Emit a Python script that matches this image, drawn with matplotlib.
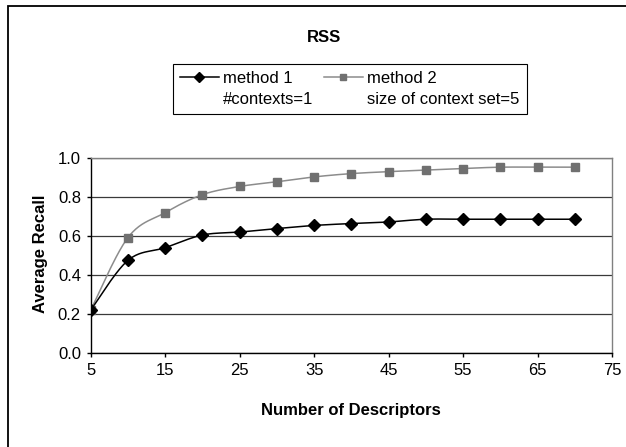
import numpy as np
import matplotlib
matplotlib.use("Agg")
import matplotlib.pyplot as plt
from matplotlib.lines import Line2D
from matplotlib.patches import Rectangle

plt.rcParams['font.family'] = ['Liberation Sans', 'DejaVu Sans']

# Average recall against the number of descriptors
descriptors = [5, 10, 15, 20, 25, 30, 35, 40, 45, 50, 55, 60, 65, 70]
recall_method1 = [0.22, 0.475, 0.54, 0.605, 0.62, 0.638, 0.654, 0.664,
                  0.672, 0.686, 0.686, 0.686, 0.686, 0.686]
recall_method2 = [0.22, 0.592, 0.72, 0.812, 0.854, 0.878, 0.903, 0.92,
                  0.93, 0.938, 0.946, 0.953, 0.953, 0.953]

series_labels = ['method 1', 'method 2']
series_notes = ['#contexts=1', 'size of context set=5']

x_ticks = [5, 15, 25, 35, 45, 55, 65, 75]
y_ticks = [0.0, 0.2, 0.4, 0.6, 0.8, 1.0]


def smooth(x, y, steps=24):
    """Smoothed polyline through the points (cubic Bezier, Catmull-Rom tangents)."""
    p = np.column_stack([x, y]).astype(float)
    ext = np.vstack([p[0], p, p[-1]])
    t = np.linspace(0, 1, steps + 1)[1:, None]
    out = [p[:1]]
    for i in range(len(p) - 1):
        p0, p1, p2, p3 = ext[i], ext[i + 1], ext[i + 2], ext[i + 3]
        c1 = p1 + (p2 - p0) / 6
        c2 = p2 - (p3 - p1) / 6
        seg = ((1 - t) ** 3) * p1 + 3 * ((1 - t) ** 2) * t * c1 \
            + 3 * (1 - t) * t ** 2 * c2 + t ** 3 * p2
        out.append(seg)
    pts = np.vstack(out)
    return pts[:, 0], pts[:, 1]


W, H = 626, 447
fig = plt.figure(figsize=(W / 100, H / 100), dpi=100)
fig.patch.set_facecolor('white')

# chart-area frame (extends past the right and bottom edges)
fig.add_artist(Rectangle((8 / W, -0.05), 1.2, 1 - 6 / H + 0.05,
                         transform=fig.transFigure, fill=False,
                         edgecolor='black', linewidth=1.3))

ax = fig.add_axes([90.7 / W, 1 - 353 / H, (612 - 90.7) / W, (353 - 158) / H])

style1 = dict(color='black', lw=1.1, marker='D', ms=6.5,
              mfc='black', mec='black')
style2 = dict(color='#8c8c8c', lw=1.1, marker='s', ms=5.5,
              mfc='#707070', mec='#707070')

for ys, st in ((recall_method2, style2), (recall_method1, style1)):
    sx, sy = smooth(descriptors, ys)
    ax.plot(sx, sy, color=st['color'], lw=st['lw'], zorder=3)
    ax.plot(descriptors, ys, linestyle='none', marker=st['marker'],
            ms=st['ms'], mfc=st['mfc'], mec=st['mec'], zorder=4)

ax.set_xlim(5, 75)
ax.set_ylim(0, 1)
ax.set_xticks(x_ticks)
ax.set_yticks(y_ticks)
ax.set_yticklabels([f'{v:.1f}' for v in y_ticks])
ax.set_axisbelow(True)
ax.yaxis.grid(True, color='#3a3a3a', linewidth=0.9)

for side in ('left', 'bottom'):
    ax.spines[side].set_color('black')
    ax.spines[side].set_linewidth(1.0)
for side in ('top', 'right'):
    ax.spines[side].set_color('#808080')
    ax.spines[side].set_linewidth(1.0)

ax.tick_params(axis='x', direction='out', length=3, width=1, pad=4.5,
               labelsize=12)
ax.tick_params(axis='y', direction='out', length=3, width=1, pad=4,
               labelsize=12)

ax.set_xlabel('Number of Descriptors', fontsize=12, fontweight='bold')
ax.xaxis.set_label_coords(0.5, (353 - 411) / 195)
ax.xaxis.label.set_va('center')
ax.set_ylabel('Average Recall', fontsize=12, fontweight='bold')
ax.yaxis.set_label_coords((40.7 - 90.7) / (612 - 90.7), (353 - 254) / 195)
ax.yaxis.label.set_va('center')
ax.yaxis.label.set_ha('center')

fig.text(324 / W, 1 - 38 / H, 'RSS', ha='center', va='center',
         fontsize=12, fontweight='bold')

h1 = Line2D([], [], **style1)
h2 = Line2D([], [], **style2)
blank = Line2D([], [], linestyle='none')
leg = fig.legend([h1, blank, h2, blank],
                 [series_labels[0], series_notes[0],
                  series_labels[1], series_notes[1]],
                 ncol=2, loc='upper left',
                 bbox_to_anchor=(172.7 / W, 1 - 64 / H),
                 bbox_transform=fig.transFigure,
                 frameon=True, fancybox=False, edgecolor='black',
                 framealpha=1, fontsize=12, handlelength=2.34,
                 handletextpad=0.28, columnspacing=0.6, borderpad=0.42,
                 labelspacing=0.34, borderaxespad=0, numpoints=1,
                 markerscale=0.85)
leg.get_frame().set_linewidth(0.8)

fig.savefig('out.png', dpi=100)
